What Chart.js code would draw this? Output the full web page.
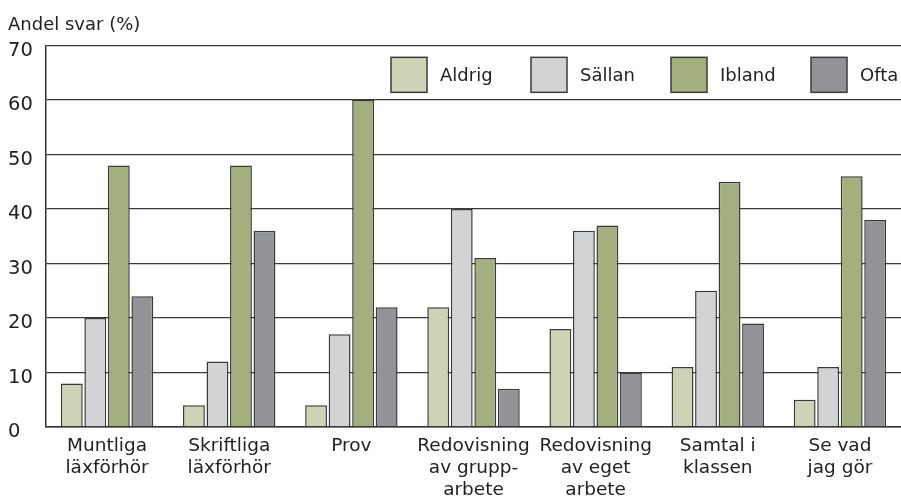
<!DOCTYPE html>
<html>
<head>
<meta charset="utf-8">
<script src="https://cdn.jsdelivr.net/npm/chart.js@4/dist/chart.umd.min.js"></script>
<style>
  html, body { margin: 0; padding: 0; background: #fff; }
  #wrap { width: 901px; height: 501px; }
</style>
</head>
<body>
<div id="wrap"><canvas id="c" width="901" height="501"></canvas></div>
<script>
// Categories (multi-line labels) and answer shares in percent
const categories = [
  ['Muntliga', 'läxförhör'],
  ['Skriftliga', 'läxförhör'],
  'Prov',
  ['Redovisning', 'av grupp-', 'arbete'],
  ['Redovisning', 'av eget', 'arbete'],
  ['Samtal i', 'klassen'],
  ['Se vad', 'jag gör']
];
const seriesNames = ['Aldrig', 'Sällan', 'Ibland', 'Ofta'];
const aldrig = [8, 4, 4, 22, 18, 11, 5];
const sallan = [20, 12, 17, 40, 36, 25, 11];
const ibland = [48, 48, 60, 31, 37, 45, 46];
const ofta   = [24, 36, 22, 7, 10, 19, 38];
const yTicks = [0, 10, 20, 30, 40, 50, 60, 70];
const axisTitle = 'Andel svar (%)';

const colors = ['#cdd3b4', '#d2d3d5', '#a3b07d', '#929397'];
const edge = '#3a3a3a';
const FONT = '"DejaVu Sans", sans-serif';

const values = [aldrig, sallan, ibland, ofta];
const datasets = seriesNames.map((name, i) => ({
  label: name,
  data: values[i],
  backgroundColor: colors[i],
  borderColor: edge,
  borderWidth: 1.5,
  categoryPercentage: 0.77,
  barPercentage: 0.93
}));

// Legend row drawn inside the plot, in the band between the two top grid lines
const insideLegend = {
  id: 'insideLegend',
  afterDatasetsDraw(chart) {
    const { ctx, chartArea, scales } = chart;
    const yMid = (scales.y.getPixelForValue(70) + scales.y.getPixelForValue(60)) / 2 + 2;
    const boxW = 36, boxH = 35, pitch = 140;
    let x = chartArea.left + 345;
    ctx.save();
    ctx.font = '18px ' + FONT;
    ctx.textBaseline = 'middle';
    chart.data.datasets.forEach((ds) => {
      ctx.fillStyle = ds.backgroundColor;
      ctx.fillRect(x, yMid - boxH / 2, boxW, boxH);
      ctx.lineWidth = 1.5;
      ctx.strokeStyle = edge;
      ctx.strokeRect(x, yMid - boxH / 2, boxW, boxH);
      ctx.fillStyle = '#222';
      ctx.fillText(ds.label, x + boxW + 13, yMid + 1);
      x += pitch;
    });
    ctx.restore();
  }
};

new Chart(document.getElementById('c'), {
  type: 'bar',
  data: { labels: categories, datasets },
  options: {
    responsive: false,
    animation: false,
    layout: { padding: { left: 8, right: 0, top: 4, bottom: 0 } },
    plugins: {
      legend: { display: false },
      tooltip: { enabled: false },
      title: {
        display: true,
        text: axisTitle,
        align: 'start',
        color: '#222',
        font: { family: FONT, size: 18, weight: 'normal' },
        padding: { top: 11, bottom: 9 }
      }
    },
    scales: {
      x: {
        afterFit(scale) { scale.height = 74; },
        grid: { display: false, drawTicks: false },
        border: { display: true, color: '#333', width: 1.5 },
        ticks: {
          color: '#222',
          font: { family: FONT, size: 18.5, lineHeight: 1.2 },
          padding: 8,
          maxRotation: 0,
          autoSkip: false
        }
      },
      y: {
        min: 0,
        max: 70,
        afterFit(scale) { scale.width = 38; },
        afterBuildTicks(scale) { scale.ticks = yTicks.map(v => ({ value: v })); },
        grid: { color: '#3a3a3a', lineWidth: 1.3, drawTicks: false },
        border: { display: true, color: '#333', width: 1.5 },
        ticks: {
          color: '#222',
          font: { family: FONT, size: 19.5 },
          padding: 13,
          crossAlign: 'far',
          labelOffset: 5
        }
      }
    }
  },
  plugins: [insideLegend]
});
</script>
</body>
</html>
